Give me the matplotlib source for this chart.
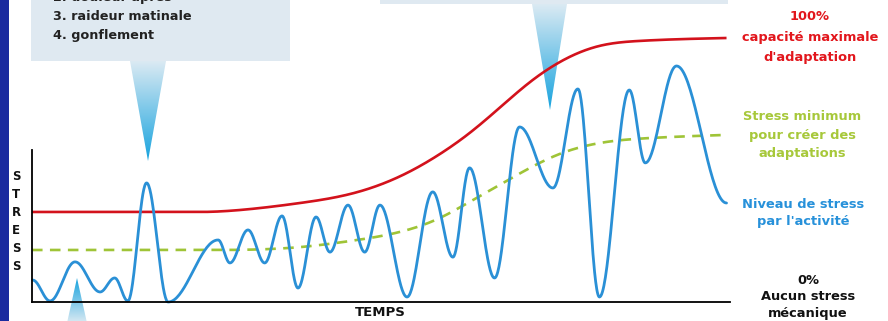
import numpy as np
import matplotlib
matplotlib.use("Agg")
import matplotlib.pyplot as plt
from matplotlib.patches import Polygon, Rectangle
from matplotlib.colors import LinearSegmentedColormap

# ---------------- data (time 0..100, stress 0..100 %) ----------------
activity_t = [0.1, 2.6, 6.2, 9.8, 11.9, 13.8, 16.5, 19.6, 26.8, 28.5, 31.1, 33.5,
              36.0, 38.3, 40.9, 42.9, 45.5, 47.9, 50.1, 54.0, 57.7, 60.6, 63.0,
              66.6, 70.2, 75.0, 78.6, 81.7, 86.0, 88.3, 92.8, 100.0]
activity_s = [8.3, 0.4, 15.2, 3.8, 9.1, 0.4, 45.1, 0.0, 23.5, 14.8, 27.3, 14.8,
              32.6, 5.3, 32.2, 18.9, 36.7, 18.9, 36.7, 1.9, 41.7, 17.0, 50.8,
              9.1, 66.3, 43.2, 80.7, 1.9, 80.3, 52.7, 89.4, 37.5]

capacity_t = [0, 24.0, 31.4, 38.6, 45.8, 52.9, 58.7, 63.0, 67.3, 71.7, 76.0, 81.7, 87.5, 100.0]
capacity_s = [34.1, 34.1, 35.2, 37.5, 40.9, 47.5, 56.0, 64.0, 73.5, 83.3, 90.9, 97.0, 98.9, 100.0]

minimum_t = [0, 24.2, 38.6, 45.8, 52.9, 58.7, 63.0, 67.3, 71.7, 76.0, 81.7, 88.9, 100.0]
minimum_s = [19.7, 19.7, 20.8, 23.1, 26.5, 31.8, 37.9, 44.3, 50.8, 56.1, 60.2, 62.1, 63.3]

box_lines = ["2. douleur après", "3. raideur matinale", "4. gonflement"]
stress_letters = ["S", "T", "R", "E", "S", "S"]
x_label = "TEMPS"
label_capacity = ["100%", "capacité maximale", "d'adaptation"]
label_minimum = ["Stress minimum", "pour créer des", "adaptations"]
label_activity = ["Niveau de stress", "par l'activité"]
label_zero = ["0%", "Aucun stress", "mécanique"]

BLUE = "#2a90d6"
RED = "#d3121c"
GREEN = "#9fc437"
RED_TXT = "#e2161c"
GREEN_TXT = "#a7c83a"
BLUE_TXT = "#2791da"


def cosine_path(t, s, n=40):
    tt, ss = [], []
    for i in range(len(t) - 1):
        u = np.linspace(0, 1, n, endpoint=False)
        tt.append(t[i] + (t[i + 1] - t[i]) * u)
        ss.append(s[i] + (s[i + 1] - s[i]) * (1 - np.cos(np.pi * u)) / 2)
    tt.append([t[-1]]); ss.append([s[-1]])
    return np.concatenate(tt), np.concatenate(ss)


def smooth_curve(x, y, n=600, flat_until=None):
    """Cubic spline through the points; flat before `flat_until`."""
    x = np.asarray(x, float); y = np.asarray(y, float)
    if flat_until is not None:
        k0 = int(np.searchsorted(x, flat_until))
        xf, yf = x[k0:], y[k0:]
    else:
        k0 = 0; xf, yf = x, y
    nn = len(xf)
    h = np.diff(xf)
    A = np.zeros((nn, nn)); b = np.zeros(nn)
    A[0, 0] = 2 * h[0]; A[0, 1] = h[0]
    b[0] = 6 * ((yf[1] - yf[0]) / h[0] - 0.0)
    for i in range(1, nn - 1):
        A[i, i - 1] = h[i - 1]; A[i, i] = 2 * (h[i - 1] + h[i]); A[i, i + 1] = h[i]
        b[i] = 6 * ((yf[i + 1] - yf[i]) / h[i] - (yf[i] - yf[i - 1]) / h[i - 1])
    A[-1, -1] = 1.0; b[-1] = 0.0
    M = np.linalg.solve(A, b)
    xs = np.linspace(xf[0], xf[-1], n)
    idx = np.clip(np.searchsorted(xf, xs) - 1, 0, nn - 2)
    x0, x1 = xf[idx], xf[idx + 1]; hh = x1 - x0
    ys = (M[idx] * (x1 - xs) ** 3 / (6 * hh) + M[idx + 1] * (xs - x0) ** 3 / (6 * hh)
          + (yf[idx] / hh - M[idx] * hh / 6) * (x1 - xs)
          + (yf[idx + 1] / hh - M[idx + 1] * hh / 6) * (xs - x0))
    if k0 > 0:
        xs = np.concatenate([x[:k0], xs]); ys = np.concatenate([y[:k0], ys])
    return xs, ys


W, H = 888, 321
fig = plt.figure(figsize=(W / 100, H / 100), dpi=100)
fig.patch.set_facecolor("white")

# overlay axes in pixel coordinates for decorations
ax0 = fig.add_axes([0, 0, 1, 1], zorder=0)
ax0.set_xlim(0, W); ax0.set_ylim(H, 0); ax0.axis("off")

ax0.add_patch(Rectangle((0, 0), 9, H, facecolor="#1b2b9f", edgecolor="none"))
ax0.add_patch(Rectangle((31, -5), 259, 66, facecolor="#dfe9f1", edgecolor="none"))
ax0.add_patch(Rectangle((380, -5), 348, 9, facecolor="#dfe9f1", edgecolor="none"))

cmap_ptr = LinearSegmentedColormap.from_list("ptr", ["#dbeaf3", "#17a3de"])


def pointer(xl, xr, base_y, tip_x, tip_y):
    poly = Polygon([(xl, base_y), (xr, base_y), (tip_x, tip_y)], closed=True,
                   facecolor="none", edgecolor="none")
    ax0.add_patch(poly)
    grad = np.linspace(1, 0, 256).reshape(-1, 1)
    lo, hi = min(base_y, tip_y), max(base_y, tip_y)
    if tip_y > base_y:
        grad = grad[::-1]
    im = ax0.imshow(grad, extent=(xl, xr, hi, lo), origin="upper", cmap=cmap_ptr,
                    aspect="auto", vmin=0, vmax=1, interpolation="bilinear")
    im.set_clip_path(poly)
    ax0.set_xlim(0, W); ax0.set_ylim(H, 0)


pointer(130, 166, 61, 148, 161)
pointer(532, 567, 4, 550, 110)
pointer(67, 87, 323, 77, 278)

for i, line in enumerate(box_lines):
    ax0.text(53, -2 + 19 * i, line, fontsize=9.2, fontweight="bold", color="#222222",
             va="center", ha="left", family="DejaVu Sans")

for i, ch in enumerate(stress_letters):
    ax0.text(16, 177 + 18 * i, ch, fontsize=8.5, fontweight="heavy", color="#111111",
             ha="center", va="center")
ax0.text(380, 313, x_label, fontsize=9.5, fontweight="bold", color="#111111",
         ha="center", va="center")


def label_block(x, ys, lines, color):
    for y, line in zip(ys, lines):
        ax0.text(x, y, line, fontsize=9.4, fontweight="bold", color=color,
                 ha="center", va="center")


label_block(810, [17, 38, 57], label_capacity, RED_TXT)
label_block(802, [117, 135, 153], label_minimum, GREEN_TXT)
label_block(803, [204, 221], label_activity, BLUE_TXT)
label_block(808, [280, 297, 313], label_zero, "#111111")

# main chart axes
ax = fig.add_axes([32 / W, (H - 302) / H, (730 - 32) / W, (302 - 38) / H], zorder=1)
ax.patch.set_alpha(0)
ax.set_xlim(0, 100.5)
ax.set_ylim(0, 100)
for sp in ["top", "right"]:
    ax.spines[sp].set_visible(False)
ax.spines["left"].set_bounds(0, 57.6)
ax.spines["left"].set_linewidth(1.3)
ax.spines["bottom"].set_linewidth(1.3)
ax.set_xticks([]); ax.set_yticks([])

ct, cs = smooth_curve(capacity_t, capacity_s, flat_until=24.0)
ax.plot(ct, cs, color=RED, lw=1.9, clip_on=False, solid_capstyle="butt")
mt, ms = smooth_curve(minimum_t, minimum_s, flat_until=24.2)
ax.plot(mt, ms, color=GREEN, lw=1.9, dashes=(4, 2.8), clip_on=False)
at, as_ = cosine_path(activity_t, activity_s)
ax.plot(at, as_, color=BLUE, lw=2.0, clip_on=False, solid_capstyle="round")

fig.savefig("out.png", dpi=100)
